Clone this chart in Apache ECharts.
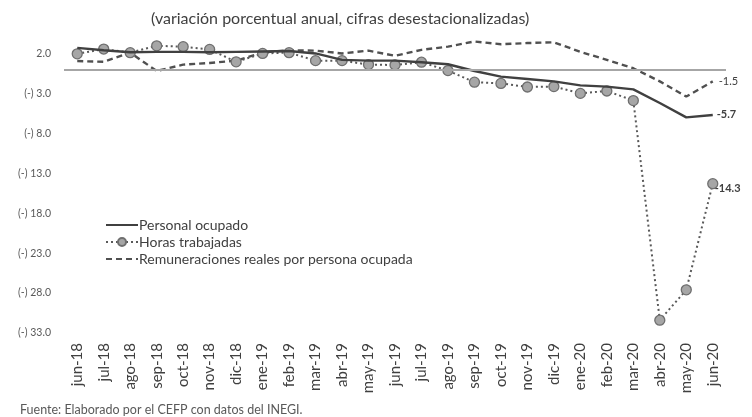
<!DOCTYPE html>
<html>
<head>
<meta charset="utf-8">
<script src="https://cdn.jsdelivr.net/npm/echarts@6/dist/echarts.min.js"></script>
<style>
html, body { margin: 0; padding: 0; background: #fff; }
#chart { width: 752px; height: 417px; }
</style>
</head>
<body>
<div id="chart"></div>
<script>
// meses jun-18 .. jun-20
var meses = ["jun-18", "jul-18", "ago-18", "sep-18", "oct-18", "nov-18", "dic-18",
  "ene-19", "feb-19", "mar-19", "abr-19", "may-19", "jun-19", "jul-19", "ago-19",
  "sep-19", "oct-19", "nov-19", "dic-19", "ene-20", "feb-20", "mar-20", "abr-20",
  "may-20", "jun-20"];

var personalOcupado = [2.7, 2.4, 2.15, 2.2, 2.2, 2.15, 2.2, 2.25, 2.3, 2.0, 1.2, 1.1,
  1.1, 0.9, 0.65, -0.2, -0.9, -1.2, -1.5, -2.0, -2.15, -2.5, -4.2, -6.0, -5.7];

var horasTrabajadas = [1.95, 2.55, 2.1, 2.95, 2.85, 2.5, 0.95, 2.0, 2.1, 1.1, 1.1, 0.6,
  0.55, 0.9, -0.15, -1.6, -1.75, -2.2, -2.15, -3.0, -2.7, -3.9, -31.4, -27.6, -14.3];

var remuneraciones = [1.05, 0.95, 2.1, -0.2, 0.6, 0.8, 1.1, 2.1, 2.4, 2.35, 2.0, 2.35,
  1.7, 2.45, 2.85, 3.5, 3.15, 3.3, 3.4, 2.2, 1.2, 0.15, -1.5, -3.4, -1.5];

var yMin = -33, yMax = 7, yPaso = 5;

var fuente = "Lato";
var gris = "#404040";

var chart = echarts.init(document.getElementById("chart"));

function etiquetaEje(v) {
  if (v > 2.5) return "";
  if (v < 0) return "(-) " + (-v).toFixed(1);
  return v.toFixed(1);
}

function etiquetaFinal(p) {
  return p.value.toFixed(1);
}

chart.setOption({
  animation: false,
  textStyle: { fontFamily: fuente },
  title: {
    text: "(variación porcentual anual, cifras desestacionalizadas)",
    left: 146,
    top: 6,
    textStyle: { fontFamily: fuente, fontSize: 16, fontWeight: "normal", color: gris }
  },
  graphic: [{
    type: "text",
    left: 20,
    top: 403,
    style: {
      text: "Fuente: Elaborado por el CEFP con datos del INEGI.",
      fontFamily: fuente,
      fontSize: 12.5,
      fill: "#595959"
    }
  }],
  legend: {
    orient: "vertical",
    left: 100,
    top: 213,
    itemWidth: 32,
    itemHeight: 10,
    itemGap: 3,
    textStyle: { fontFamily: fuente, fontSize: 14, color: gris, padding: [0, 0, 0, -4] },
    data: [
      { name: "Personal ocupado", itemStyle: { opacity: 0 } },
      { name: "Horas trabajadas" },
      { name: "Remuneraciones reales por persona ocupada", itemStyle: { opacity: 0 } }
    ]
  },
  grid: { left: 64, right: 26, top: 13.5, bottom: 84 },
  xAxis: {
    type: "category",
    data: meses,
    boundaryGap: true,
    axisLine: { show: false },
    axisTick: { show: false },
    axisLabel: {
      rotate: 90,
      interval: 0,
      margin: 10,
      fontFamily: fuente,
      fontSize: 15,
      color: gris
    }
  },
  yAxis: {
    type: "value",
    min: yMin,
    max: yMax,
    interval: yPaso,
    axisLine: { show: false },
    axisTick: { show: false },
    splitLine: { show: false },
    axisLabel: {
      margin: 13,
      fontFamily: fuente,
      fontSize: 10.5,
      color: "#595959",
      formatter: etiquetaEje
    }
  },
  series: [
    {
      name: "Personal ocupado",
      type: "line",
      data: personalOcupado,
      symbol: "none",
      z: 4,
      lineStyle: { color: gris, width: 2.4, type: "solid" },
      itemStyle: { color: gris },
      endLabel: {
        show: true,
        formatter: etiquetaFinal,
        fontFamily: fuente,
        fontSize: 11,
        fontWeight: "bold",
        color: gris,
        distance: 4
      },
      markLine: {
        silent: true,
        symbol: "none",
        label: { show: false },
        lineStyle: { color: "#a6a6a6", width: 2, type: "solid" },
        data: [{ yAxis: 0 }]
      }
    },
    {
      name: "Horas trabajadas",
      type: "line",
      data: horasTrabajadas,
      symbol: "circle",
      symbolSize: 10,
      showAllSymbol: true,
      z: 3,
      lineStyle: { color: "#595959", width: 2, type: [2, 3] },
      itemStyle: { color: "#a6a6a6", borderColor: "#6f6f6f", borderWidth: 1.3 },
      endLabel: {
        show: true,
        formatter: etiquetaFinal,
        fontFamily: fuente,
        fontSize: 11,
        fontWeight: "bold",
        color: gris,
        distance: 2,
        offset: [0, 5]
      }
    },
    {
      name: "Remuneraciones reales por persona ocupada",
      type: "line",
      data: remuneraciones,
      symbol: "none",
      z: 2,
      lineStyle: { color: "#505050", width: 2.4, type: [6, 4] },
      itemStyle: { color: "#505050" },
      endLabel: {
        show: true,
        formatter: etiquetaFinal,
        fontFamily: fuente,
        fontSize: 11,
        color: gris,
        distance: 6
      }
    }
  ]
});
</script>
</body>
</html>
